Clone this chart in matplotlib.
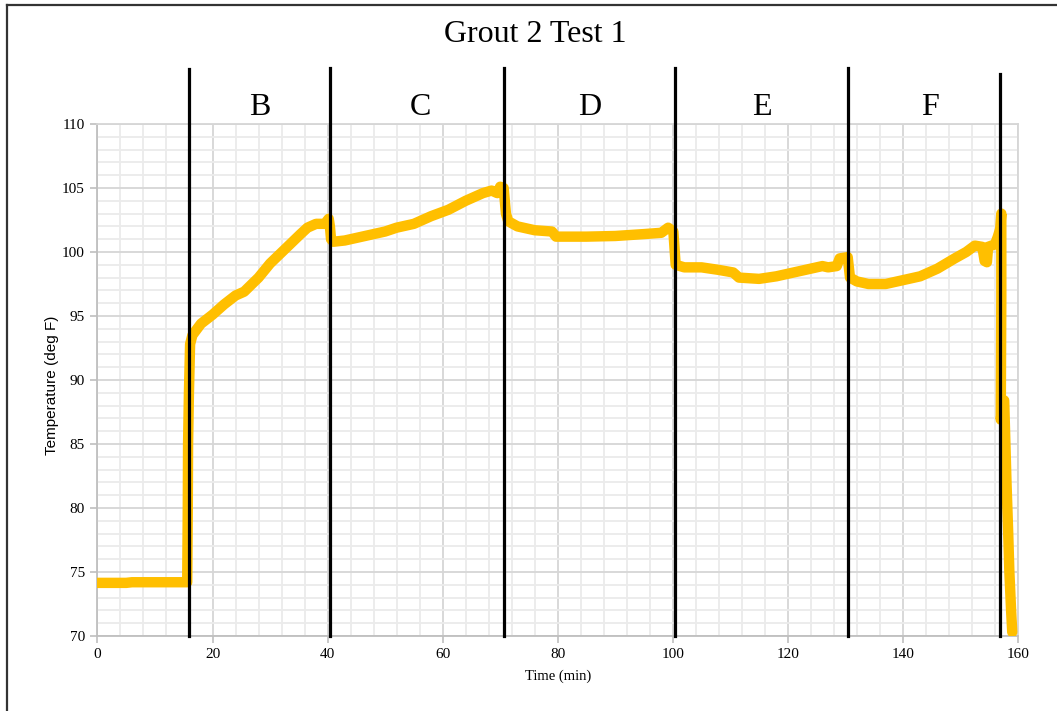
import matplotlib.pyplot as plt
from matplotlib.ticker import MultipleLocator
from matplotlib.lines import Line2D

# temperature log for grout 2, test 1
time_min = [0, 5, 6, 15.6, 15.7, 15.75, 15.9, 16.1, 16.5, 18, 20, 22, 24, 25.5, 28, 30,
            33, 35.3, 36.5, 38, 39.5, 40.2, 40.4, 40.6, 41, 43, 46, 50, 52, 55, 58, 61,
            64, 67, 68.5, 69.5, 70, 70.6, 71, 71.4, 73, 76, 79, 79.7, 85, 90, 95, 98,
            99.2, 100.1, 100.5, 102, 105, 108, 110.5, 111.5, 115, 118, 121, 124, 126,
            127, 128.5, 129, 130.4, 130.8, 132, 134, 137, 140, 143, 146, 149, 151,
            152.5, 153.8, 154.2, 154.6, 154.8, 156, 156.5, 156.9, 157.1, 157.1, 157.0,
            157.4, 157.6, 158.0, 158.3, 158.5, 158.8, 159.0]
temp_f = [74.15, 74.15, 74.2, 74.2, 80, 85, 89, 92.8, 93.5, 94.4, 95.1, 95.9, 96.6,
          96.9, 98.0, 99.1, 100.4, 101.4, 101.9, 102.2, 102.2, 102.6, 102.0, 101.0,
          100.8, 100.9, 101.2, 101.6, 101.9, 102.2, 102.8, 103.3, 104.0, 104.6, 104.8,
          104.6, 105.1, 105.0, 103.0, 102.4, 102.0, 101.7, 101.6, 101.2, 101.2, 101.25,
          101.4, 101.5, 101.9, 101.6, 99.0, 98.8, 98.8, 98.6, 98.4, 98.0, 97.9, 98.1,
          98.4, 98.7, 98.9, 98.8, 98.9, 99.5, 99.6, 98.0, 97.7, 97.5, 97.5, 97.8, 98.1,
          98.7, 99.5, 100.0, 100.5, 100.4, 99.3, 99.2, 100.4, 100.6, 101.2, 101.8,
          103.0, 96.5, 86.9, 88.4, 88.4, 82.0, 78.0, 75.0, 72.0, 70.3]

# phase boundaries and labels
phase_bounds = [15.85, 40.4, 70.7, 100.3, 130.5, 156.9]
phase_tops = [114.3, 114.4, 114.4, 114.4, 114.4, 113.9]
phase_names = ['B', 'C', 'D', 'E', 'F']
phase_label_x = [28.2, 56.1, 85.5, 115.4, 144.7]

serif = 'Liberation Serif'
sans = 'Liberation Sans'

fig = plt.figure(figsize=(10.57, 7.11), dpi=100)
ax = fig.add_axes([0.0922, 0.1055, 0.8709, 0.7201])

ax.set_xlim(0, 160)
ax.set_ylim(70, 110)
ax.xaxis.set_major_locator(MultipleLocator(20))
ax.xaxis.set_minor_locator(MultipleLocator(4))
ax.yaxis.set_major_locator(MultipleLocator(5))
ax.yaxis.set_minor_locator(MultipleLocator(1))
ax.grid(which='minor', color='#ebebeb', lw=1.3, zorder=0)
ax.grid(which='major', color='#d6d6d6', lw=1.3, zorder=0)
ax.set_axisbelow(True)

for s in ['top', 'right']:
    ax.spines[s].set_color('#d6d6d6')
    ax.spines[s].set_linewidth(1.3)
for s in ['left', 'bottom']:
    ax.spines[s].set_color('#bfbfbf')
    ax.spines[s].set_linewidth(1.3)

ax.tick_params(which='major', length=5, width=1.2, color='#bfbfbf', labelsize=11,
               pad=4)
ax.tick_params(which='minor', length=0)
for lab in ax.get_xticklabels() + ax.get_yticklabels():
    lab.set_fontfamily(serif)

ax.plot(time_min, temp_f, color='#FFBF00', lw=7.5, solid_capstyle='round',
        solid_joinstyle='round', zorder=3)

for xb, top in zip(phase_bounds, phase_tops):
    ax.plot([xb, xb], [70, top], color='black', lw=2.3, clip_on=False, zorder=4)

for name, xl in zip(phase_names, phase_label_x):
    ax.text(xl, 111.25, name, ha='center', va='center', fontsize=23, family=serif)

ax.set_xlabel('Time (min)', family=serif, fontsize=10.5, labelpad=6)
ax.set_ylabel('Temperature (deg F)', family=sans, fontsize=11)
ax.yaxis.set_label_coords(-0.042, 0.49)

fig.text(0.506, 0.951, 'Grout 2 Test 1', ha='center', va='center', fontsize=23,
         family=serif)

# outer frame
fig.add_artist(Line2D([0.0065, 0.0065], [-0.01, 1 - 4.5 / 711], color='#333333',
                      lw=1.6, transform=fig.transFigure))
fig.add_artist(Line2D([0.0065, 1.01], [1 - 4.5 / 711, 1 - 4.5 / 711], color='#333333',
                      lw=1.6, transform=fig.transFigure))

fig.savefig('out.png', dpi=100)
